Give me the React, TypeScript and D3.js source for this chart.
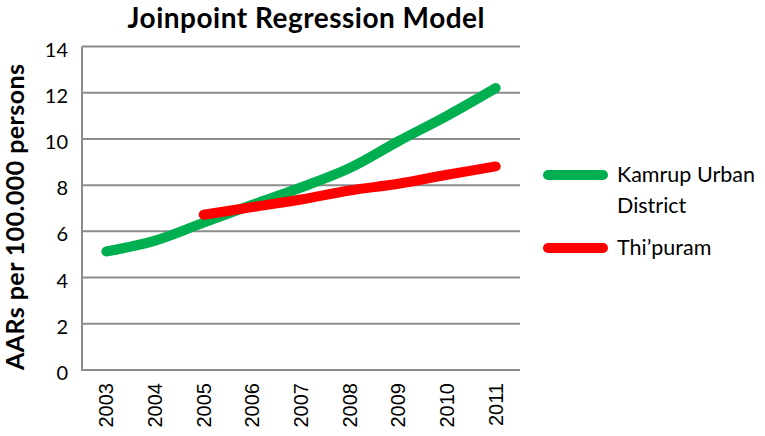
import React from "react";
import * as d3 from "d3";

const years = ["2003", "2004", "2005", "2006", "2007", "2008", "2009", "2010", "2011"];
const kamrupValues: (number | null)[] = [5.13, 5.6, 6.38, 7.15, 7.9, 8.74, 9.9, 11.0, 12.2];
const thipuramValues: (number | null)[] = [null, null, 6.72, 7.05, 7.38, 7.77, 8.06, 8.45, 8.81];
const yTicks = [0, 2, 4, 6, 8, 10, 12, 14];
const seriesNames = ["Kamrup Urban District", "Thi\u2019puram"];

const W = 765;
const H = 436;
const plot = { left: 82, right: 520, top: 46.5, bottom: 370 };
const GREEN = "#00B050";
const RED = "#FF0000";
const GRID = "#8C8C8C";

export default function App() {
  const x = d3.scaleBand<string>().domain(years).range([plot.left, plot.right]);
  const y = d3.scaleLinear().domain([0, 14]).range([plot.bottom, plot.top]);
  const cx = (yr: string) => (x(yr) as number) + x.bandwidth() / 2;

  const line = d3
    .line<{ yr: string; v: number | null }>()
    .defined((d) => d.v !== null)
    .x((d) => cx(d.yr))
    .y((d) => y(d.v as number))
    .curve(d3.curveCatmullRom.alpha(0));

  const kData = years.map((yr, i) => ({ yr, v: kamrupValues[i] }));
  const tData = years.map((yr, i) => ({ yr, v: thipuramValues[i] }));

  const bodyFont = "Lato, 'Open Sans', sans-serif";

  return (
    <svg
      width={W}
      height={H}
      style={{ position: "absolute", left: 0, top: 0, background: "#fff" }}
    >
      <rect x={0} y={0} width={W} height={H} fill="#fff" />
      <text
        x={306}
        y={27.5}
        textAnchor="middle"
        fontFamily={bodyFont}
        fontWeight="bold"
        fontSize={28}
        textLength={357}
        fill="#000"
      >
        Joinpoint Regression Model
      </text>

      {yTicks.map((t) => (
        <g key={t}>
          <line
            x1={plot.left}
            x2={plot.right}
            y1={y(t)}
            y2={y(t)}
            stroke={GRID}
            strokeWidth={2}
          />
          <text
            x={68}
            y={y(t) + 3}
            dy="0.35em"
            textAnchor="end"
            fontFamily={bodyFont}
            fontSize={20}
            fill="#000"
          >
            {t}
          </text>
        </g>
      ))}
      <line x1={plot.left} x2={plot.left} y1={plot.top} y2={plot.bottom + 1} stroke={GRID} strokeWidth={2} />

      {years.map((yr) => (
        <text
          key={yr}
          transform={`translate(${cx(yr)},383) rotate(-90)`}
          textAnchor="end"
          dy="0.35em"
          fontFamily="'Liberation Sans', Arial, sans-serif"
          fontSize={20}
          fill="#000"
        >
          {yr}
        </text>
      ))}

      <text
        transform={`translate(24,217) rotate(-90)`}
        textAnchor="middle"
        fontFamily={bodyFont}
        fontWeight="bold"
        fontSize={25}
        textLength={306}
        fill="#000"
      >
        AARs per 100.000 persons
      </text>

      <path d={line(kData) || ""} fill="none" stroke={GREEN} strokeWidth={10} strokeLinecap="round" strokeLinejoin="round" />
      <path d={line(tData) || ""} fill="none" stroke={RED} strokeWidth={10} strokeLinecap="round" strokeLinejoin="round" />

      <line x1={548} x2={603} y1={175} y2={175} stroke={GREEN} strokeWidth={10} strokeLinecap="round" />
      <text x={617} y={182} fontFamily={bodyFont} fontSize={21.5} fill="#000">
        Kamrup Urban
      </text>
      <text x={617} y={213} fontFamily={bodyFont} fontSize={21.5} fill="#000">
        District
      </text>
      <line x1={548} x2={603} y1={248} y2={248} stroke={RED} strokeWidth={10} strokeLinecap="round" />
      <text x={617} y={255} fontFamily={bodyFont} fontSize={21.5} fill="#000">
        {seriesNames[1]}
      </text>
    </svg>
  );
}
